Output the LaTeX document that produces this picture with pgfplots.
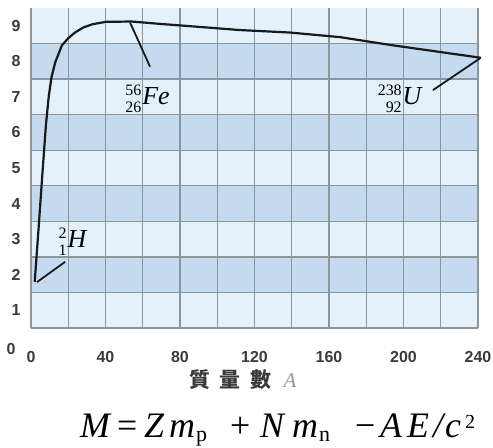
\documentclass[border=0pt]{standalone}
\usepackage{fontspec}
\setmainfont{Liberation Serif}
\newfontfamily\sansb{Liberation Sans}
\newfontfamily\cjk{Noto Sans CJK TC}
\usepackage{pgfplots}
\pgfplotsset{compat=1.18}
\usepackage{xcolor}
\definecolor{bandlight}{HTML}{E4F1FB}
\definecolor{banddark}{HTML}{C4DBEF}
\definecolor{gridgray}{HTML}{8C949C}
\definecolor{ticktext}{HTML}{3A3A3A}

% nuclide label: mass number over atomic number, then the symbol
\newcommand{\nuc}[3]{{\fontsize{16}{17}\selectfont
  \begin{tabular}{@{}r@{}}#1\\#2\end{tabular}%
  \fontsize{26}{26}\selectfont\kern1bp\itshape #3}}
% fixed-advance box for the formula
\newcommand{\fb}[2]{\makebox[#1][l]{#2}}

\begin{document}
\begin{tikzpicture}
\begin{axis}[
  at={(0,0)}, anchor=south west,
  scale only axis,
  width=447bp, height=320bp,
  xmin=0, xmax=240, ymin=0.5, ymax=9.5,
  set layers,
  clip=false,
  axis x line*=bottom, axis y line*=left,
  axis line style={draw=gridgray, line width=1.3bp},
  xtick={0,20,...,240},
  xticklabels={0,,40,,80,,120,,160,,200,,240},
  ytick={1,...,9},
  minor ytick={1.5,2.5,...,8.5},
  xmajorgrids=true,
  ymajorgrids=false, yminorgrids=true,
  major grid style={draw=gridgray, line width=1.3bp},
  minor grid style={draw=gridgray, line width=1.3bp},
  major tick length=0pt, minor tick length=0pt,
  /pgf/number format/assume math mode=true,
  ticklabel style={font=\sansb\bfseries\fontsize{16}{16}\selectfont, text=ticktext},
  yticklabel style={xshift=-7bp},
  xticklabel style={yshift=-20bp},
]
  % background bands
  \addplot[on layer=axis background, fill=bandlight, draw=none]
    coordinates {(0,0.5) (240,0.5) (240,9.5) (0,9.5) (0,0.5)};
  \addplot[on layer=axis background, fill=banddark, draw=none]
    coordinates {(0,1.5) (240,1.5) (240,2.5) (0,2.5) (0,1.5)};
  \addplot[on layer=axis background, fill=banddark, draw=none]
    coordinates {(0,3.5) (240,3.5) (240,4.5) (0,4.5) (0,3.5)};
  \addplot[on layer=axis background, fill=banddark, draw=none]
    coordinates {(0,5.5) (240,5.5) (240,6.5) (0,6.5) (0,5.5)};
  \addplot[on layer=axis background, fill=banddark, draw=none]
    coordinates {(0,7.5) (240,7.5) (240,8.5) (0,8.5) (0,7.5)};

  % binding energy per nucleon
  \addplot[black!90, line width=2.2bp, line join=round] coordinates {
    (2,1.8) (4,3.25) (6,4.75) (8,6.2) (9.5,7.0) (11,7.55) (13,7.97)
    (16.6,8.45) (20,8.65) (23.6,8.81) (28,8.95) (32.8,9.04) (40,9.11)
    (54,9.12) (70,9.05) (90,8.97) (112,8.88) (139,8.81) (166,8.68)
    (193,8.46) (220,8.26) (241.5,8.1)
  };

  % pointer lines
  \addplot[black!90, line width=1.8bp] coordinates {(53.2,9.09) (63.9,7.85)};
  \addplot[black!90, line width=1.8bp] coordinates {(215.8,7.19) (241.5,8.1)};
  \addplot[black!90, line width=1.8bp] coordinates {(3.2,1.79) (18.3,2.36)};

  \node at (axis cs:62.6,6.9) {\nuc{56}{26}{Fe}};
  \node at (axis cs:197.9,6.9) {\nuc{238}{92}{U}};
  \node at (axis cs:22.3,2.88) {\nuc{2}{1}{H}};

  \node[anchor=east, text=ticktext, font=\sansb\bfseries\fontsize{16}{16}\selectfont]
    at (axis cs:0,-0.09) [xshift=-12bp] {0};
\end{axis}
\node[text=ticktext] at (212bp,-52bp)
  {\cjk\bfseries\fontsize{21}{21}\selectfont 質\hspace{0.45em}量\hspace{0.45em}數\hspace{0.6em}{\color{black!40}\rmfamily\mdseries\itshape A}};
\node[anchor=base west, inner sep=0pt] at (49bp,-109bp)
  {\fontsize{36}{36}\selectfont\itshape
   \fb{37bp}{M}\fb{27bp}{\upshape =}\fb{25bp}{Z}\fb{27bp}{m}%
   \fb{34bp}{\raisebox{-4bp}{\fontsize{22}{22}\selectfont\upshape p}}%
   \fb{30bp}{\upshape +}\fb{32bp}{N}\fb{27bp}{m}%
   \fb{36bp}{\raisebox{-4bp}{\fontsize{22}{22}\selectfont\upshape n}}%
   \fb{25bp}{\upshape −}\fb{27bp}{A}\fb{26bp}{E}\fb{12bp}{/}\fb{20bp}{c}%
   \raisebox{9bp}{\fontsize{20}{20}\selectfont\upshape 2}};
\pgfresetboundingbox
\path[use as bounding box] (-31bp,-120bp) rectangle (462bp,328bp);
\end{tikzpicture}
\end{document}
